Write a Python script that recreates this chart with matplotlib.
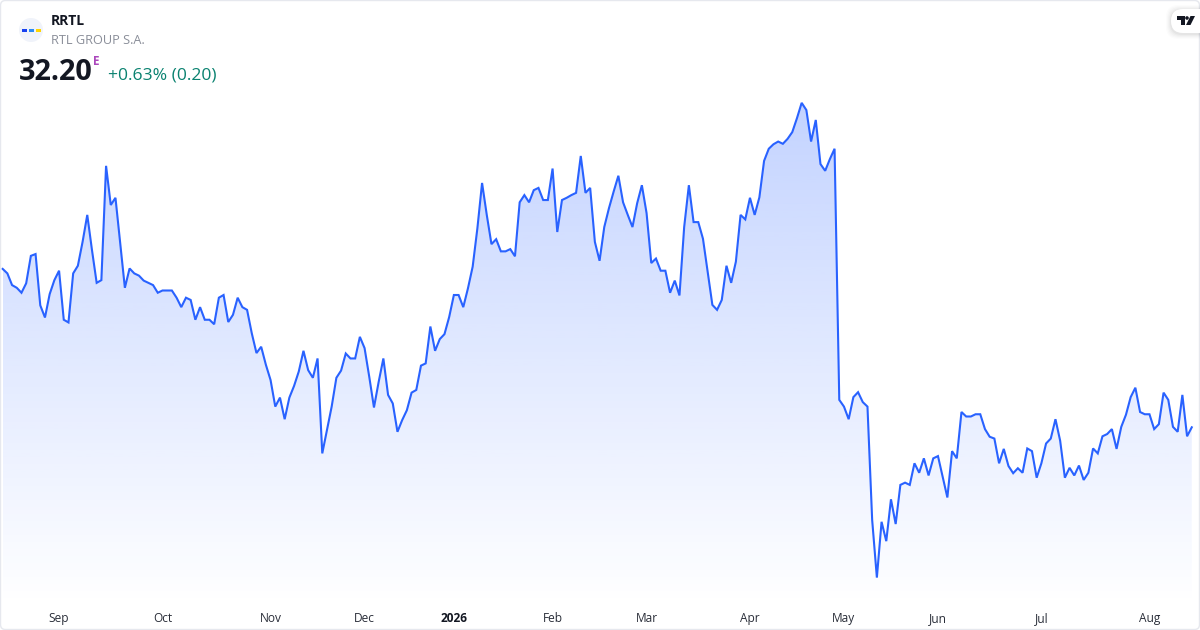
import matplotlib
matplotlib.use('Agg')
import matplotlib.pyplot as plt
import numpy as np
from matplotlib.colors import LinearSegmentedColormap
from matplotlib.patches import Circle, FancyBboxPatch, Polygon, Rectangle

# daily closes
prices = [
  35.72, 35.62, 35.36, 35.30, 35.19, 35.40, 36.01, 36.05, 34.91, 34.64,
  35.16, 35.47, 35.68, 34.59, 34.53, 35.62, 35.79, 36.32, 36.92, 36.14,
  35.41, 35.47, 38.01, 37.14, 37.30, 36.29, 35.30, 35.73, 35.62, 35.57,
  35.46, 35.41, 35.36, 35.19, 35.24, 35.24, 35.24, 35.08, 34.87, 35.08,
  35.03, 34.59, 34.87, 34.59, 34.59, 34.49, 35.08, 35.14, 34.54, 34.70,
  35.08, 34.87, 34.81, 34.29, 33.85, 33.99, 33.59, 33.25, 32.66, 32.86,
  32.38, 32.86, 33.12, 33.44, 33.90, 33.47, 33.30, 33.73, 31.62, 32.14,
  32.66, 33.30, 33.46, 33.84, 33.73, 33.73, 34.21, 33.96, 33.32, 32.64,
  33.21, 33.73, 32.92, 32.73, 32.10, 32.36, 32.58, 32.97, 33.03, 33.57,
  33.62, 34.44, 33.90, 34.16, 34.27, 34.65, 35.14, 35.14, 34.87, 35.29,
  35.77, 36.62, 37.63, 36.92, 36.27, 36.38, 36.11, 36.11, 36.16, 36.00,
  37.20, 37.36, 37.20, 37.47, 37.52, 37.25, 37.25, 37.95, 36.54, 37.25,
  37.30, 37.36, 37.41, 38.23, 37.41, 37.52, 36.32, 35.90, 36.65, 37.07,
  37.44, 37.79, 37.20, 36.92, 36.65, 37.18, 37.58, 36.96, 35.85, 35.95,
  35.68, 35.68, 35.19, 35.46, 35.13, 36.65, 37.58, 36.76, 36.76, 36.39,
  35.66, 34.92, 34.81, 35.03, 35.79, 35.41, 35.88, 36.92, 36.82, 37.30,
  36.92, 37.31, 38.12, 38.39, 38.49, 38.55, 38.50, 38.61, 38.76, 39.07,
  39.41, 39.25, 38.55, 39.03, 38.05, 37.90, 38.16, 38.39, 32.81, 32.66,
  32.38, 32.87, 32.98, 32.76, 32.66, 30.14, 28.86, 30.10, 29.67, 30.60,
  30.05, 30.92, 30.97, 30.92, 31.40, 31.19, 31.51, 31.13, 31.51, 31.56,
  31.10, 30.64, 31.67, 31.51, 32.54, 32.44, 32.44, 32.49, 32.49, 32.16,
  31.99, 31.95, 31.40, 31.72, 31.34, 31.18, 31.29, 31.19, 31.73, 31.67,
  31.08, 31.40, 31.84, 31.95, 32.38, 31.90, 31.08, 31.30, 31.13, 31.35,
  31.03, 31.19, 31.73, 31.62, 32.00, 32.05, 32.16, 31.72, 32.21, 32.48,
  32.87, 33.08, 32.54, 32.49, 32.49, 32.16, 32.27, 32.97, 32.81, 32.21,
  32.10, 32.92, 32.00, 32.20,
]
month_labels = ['Sep', 'Oct', 'Nov', 'Dec', '2026', 'Feb', 'Mar', 'Apr', 'May', 'Jun', 'Jul', 'Aug']
month_bars = [12, 34, 57, 77, 96, 117, 137, 159, 179, 199, 221, 244]

ticker = 'RRTL'
company = 'RTL GROUP S.A.'
last_price = '32.20'
change = '+0.63% (0.20)'

LINE = '#2962FF'
FONT = 'Open Sans'
BAR_PX = 4.70
FIRST_PX = 2.67
PX_PER_UNIT = 45.0
AXES_BOTTOM = 606

plt.rcParams['font.family'] = [FONT, 'DejaVu Sans']

fig = plt.figure(figsize=(12, 6.3), dpi=100, facecolor='white')

# price pane, tick labels sit in the strip below it
ax = fig.add_axes([0, 1 - AXES_BOTTOM / 630, 1, AXES_BOTTOM / 630])
x = np.arange(len(prices))
top = 32.20 + 427.3 / PX_PER_UNIT
bottom = top - AXES_BOTTOM / PX_PER_UNIT

poly = ax.fill_between(x, prices, bottom, color='none', lw=0)
cmap = LinearSegmentedColormap.from_list('area', [(41 / 255, 98 / 255, 1, 0.0), (41 / 255, 98 / 255, 1, 0.28)])
grad = ax.imshow(np.linspace(1, 0, 256).reshape(-1, 1), cmap=cmap, vmin=0, vmax=1, aspect='auto',
                 extent=[x[0], x[-1], bottom, max(prices)], zorder=1)
grad.set_clip_path(poly.get_paths()[0], transform=ax.transData)
ax.plot(x, prices, color=LINE, lw=1.5, zorder=2, solid_joinstyle='miter')

ax.set_xlim(-FIRST_PX / BAR_PX, (1200 - FIRST_PX) / BAR_PX)
ax.set_ylim(bottom, top)
ax.patch.set_alpha(0)
for s in ax.spines.values():
  s.set_visible(False)
ax.set_yticks([])
ax.set_xticks(month_bars)
ax.set_xticklabels(month_labels, fontsize=8.6, color='#2a2e39')
ax.get_xticklabels()[4].set_fontweight('bold')
ax.get_xticklabels()[4].set_color('#131722')
ax.tick_params(axis='x', length=0, pad=4.5)

# overlay in pixel coordinates for the header and card decorations
deco = fig.add_axes([0, 0, 1, 1], zorder=5)
deco.set_xlim(0, 1200)
deco.set_ylim(630, 0)
deco.axis('off')

deco.add_patch(FancyBboxPatch((0.5, 0.5), 1199, 629, boxstyle='round,pad=0,rounding_size=5',
                              fc='none', ec='#e6e8ee', lw=1))

# logo
deco.add_patch(Circle((31, 30), 12, fc='#f0f3fa', ec='none'))
for x0, c in [(21.5, '#1740f0'), (28.5, '#2a8cf5'), (35.5, '#ffd500')]:
  deco.add_patch(Rectangle((x0, 29), 5.5, 2.6, fc=c, ec='none'))

deco.text(51, 21, ticker, fontsize=10, fontweight='bold', color='#131722', va='center')
deco.text(51, 40.5, company, fontsize=9.2, color='#8a8e99', va='center')
deco.text(19, 73, last_price, fontsize=20.8, fontweight='bold', color='#131722', va='center')
deco.text(93, 61.5, 'E', fontsize=8.5, fontweight='bold', color='#ab47bc', va='center')
deco.text(108, 75.5, change, fontsize=12.6, color='#0a8270', va='center')

# TradingView badge with a soft shadow
for grow, a in [(5, 0.012), (4, 0.016), (3, 0.02), (2, 0.025), (1, 0.03)]:
  deco.add_patch(FancyBboxPatch((1171 - grow, 9 - grow + 1), 40 + 2 * grow, 24 + 2 * grow,
                                boxstyle='round,pad=0,rounding_size=12', fc='black', ec='none', alpha=a))
deco.add_patch(FancyBboxPatch((1171, 9), 40, 24, boxstyle='round,pad=0,rounding_size=12', fc='white', ec='none'))
deco.add_patch(Polygon([(1177, 16), (1185, 16), (1185, 25), (1181, 25), (1181, 19.5), (1177, 19.5)], fc='#131722', ec='none'))
deco.add_patch(Circle((1187, 18), 1.8, fc='#131722', ec='none'))
deco.add_patch(Polygon([(1190.5, 16), (1195, 16), (1190.5, 25), (1186, 25)], fc='#131722', ec='none'))

fig.savefig('out.png', dpi=100)
